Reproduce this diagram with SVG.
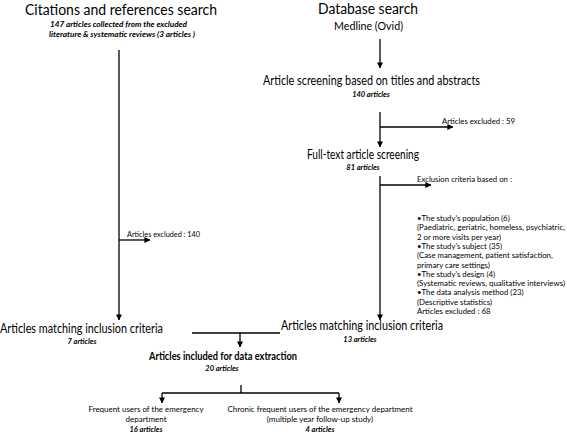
<svg xmlns="http://www.w3.org/2000/svg" width="567" height="434" viewBox="0 0 567 434">
<defs>
<marker id="ah" viewBox="0 0 8 8" refX="7.5" refY="4" markerWidth="6" markerHeight="6" markerUnits="userSpaceOnUse" orient="auto">
<path d="M0,0 L8,4 L0,8 Z" fill="#000"/>
</marker>
<style>
text{font-family:Lato,"Open Sans","Liberation Sans",sans-serif;fill:#000}
.h1{font-size:15.5px}
.h2{font-size:14px}
.sm{font-size:7.8px}
.bt{font-size:8px}
.it{font-size:7.5px;font-style:italic;font-weight:bold}
.bd{font-size:10.5px;font-weight:bold}
.c{text-anchor:middle}
.ln{stroke:#000;stroke-width:1.3;fill:none}
.ar{stroke:#000;stroke-width:1.3;fill:none;marker-end:url(#ah)}
</style>
</defs>
<rect width="567" height="434" fill="#fff"/>
<g id="connectors">
<path class="ar" d="M119,50 V320"/>
<path class="ar" d="M119,240 H150"/>
<path class="ar" d="M380,39 V68"/>
<path class="ar" d="M380,112 V147"/>
<path class="ar" d="M380,127 H453"/>
<path class="ar" d="M380,176 V320"/>
<path class="ar" d="M380,185 H431"/>
<path class="ln" d="M192,333 H280"/>
<path class="ar" d="M240,333 V347"/>
<path class="ln" d="M241,385 V393 M162,393 H339"/>
<path class="ar" d="M162,393 V403"/>
<path class="ar" d="M339,393 V403"/>
</g>
<g id="citations">
<text class="h1" x="25" y="15" textLength="192" lengthAdjust="spacingAndGlyphs">Citations and references search</text>
<text class="it" x="50" y="27" textLength="137" lengthAdjust="spacingAndGlyphs">147 articles collected from the excluded</text>
<text class="it" x="49" y="37" textLength="146" lengthAdjust="spacingAndGlyphs">literature &amp; systematic reviews (3 articles )</text>
</g>
<g id="excluded140">
<text class="sm" x="127" y="237" textLength="73" lengthAdjust="spacingAndGlyphs">Articles excluded : 140</text>
</g>
<g id="database">
<text class="h1" x="318" y="14" textLength="100" lengthAdjust="spacingAndGlyphs">Database search</text>
<text x="334" y="30" style="font-size:11.5px" textLength="69" lengthAdjust="spacingAndGlyphs">Medline (Ovid)</text>
</g>
<g id="screening">
<text class="h2" x="263" y="85" textLength="217" lengthAdjust="spacingAndGlyphs">Article screening based on titles and abstracts</text>
<text class="it c" x="371" y="97">140 articles</text>
</g>
<g id="excluded59">
<text class="sm" x="442" y="124" textLength="73" lengthAdjust="spacingAndGlyphs">Articles excluded : 59</text>
</g>
<g id="fulltext">
<text class="h2" x="307" y="159" textLength="112" lengthAdjust="spacingAndGlyphs">Full-text article screening</text>
<text class="it c" x="363" y="170">81 articles</text>
</g>
<g id="exclusion">
<text class="sm" x="417" y="182">Exclusion criteria based on :</text>
<text class="sm" x="417" y="221">•The study’s population (6)</text>
<text class="sm" x="417" y="230.3" textLength="148" lengthAdjust="spacingAndGlyphs">(Paediatric, geriatric, homeless, psychiatric,</text>
<text class="sm" x="417" y="239.6"> 2 or more visits per year)</text>
<text class="sm" x="417" y="248.9">•The study’s subject (35)</text>
<text class="sm" x="417" y="258.2">(Case management, patient satisfaction,</text>
<text class="sm" x="417" y="267.5">primary care settings)</text>
<text class="sm" x="417" y="276.8">•The study’s design (4)</text>
<text class="sm" x="417" y="286.1" textLength="148" lengthAdjust="spacingAndGlyphs">(Systematic reviews, qualitative interviews)</text>
<text class="sm" x="417" y="295.4">•The data analysis method (23)</text>
<text class="sm" x="417" y="304.7">(Descriptive statistics)</text>
<text class="sm" x="417" y="314">Articles excluded : 68</text>
</g>
<g id="match-left">
<text class="h2" x="0" y="333" textLength="163" lengthAdjust="spacingAndGlyphs">Articles matching inclusion criteria</text>
<text class="it c" x="82" y="344">7 articles</text>
</g>
<g id="match-right">
<text class="h2" x="281" y="330" textLength="162" lengthAdjust="spacingAndGlyphs">Articles matching inclusion criteria</text>
<text class="it c" x="360" y="342">13 articles</text>
</g>
<g id="included">
<text class="bd" x="149" y="360" textLength="148" lengthAdjust="spacingAndGlyphs">Articles included for data extraction</text>
<text class="it c" x="222" y="371">20 articles</text>
</g>
<g id="frequent">
<text class="bt c" x="146" y="412" textLength="115" lengthAdjust="spacingAndGlyphs">Frequent users of the emergency</text>
<text class="bt c" x="146" y="422">department</text>
<text class="it c" x="146" y="432">16 articles</text>
</g>
<g id="chronic">
<text class="bt c" x="320" y="412" textLength="185" lengthAdjust="spacingAndGlyphs">Chronic frequent users of the emergency department</text>
<text class="bt c" x="320" y="422">(multiple year follow-up study)</text>
<text class="it c" x="320" y="432">4 articles</text>
</g>
</svg>
